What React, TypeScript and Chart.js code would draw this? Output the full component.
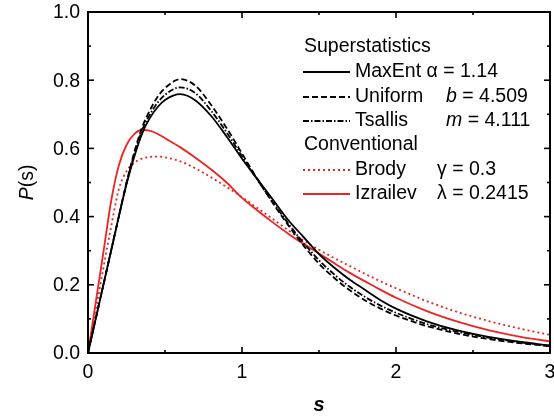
import React, { useEffect, useRef } from "react";
import { Chart, registerables } from "chart.js";

Chart.register(...registerables);

const sValues = [0, 0.025, 0.05, 0.075, 0.1, 0.15, 0.2, 0.25, 0.3, 0.35, 0.4, 0.45, 0.5, 0.6, 0.7, 0.8, 0.9, 1.0, 1.1, 1.2, 1.3, 1.4, 1.5, 1.6, 1.7, 1.8, 1.9, 2.0, 2.2, 2.4, 2.6, 2.8, 3.0];

const maxEnt = [0, 0.05, 0.1, 0.15, 0.2, 0.3, 0.4, 0.495, 0.575, 0.642, 0.688, 0.72, 0.742, 0.759, 0.74, 0.695, 0.635, 0.57, 0.51, 0.45, 0.39, 0.34, 0.29, 0.25, 0.215, 0.185, 0.155, 0.13, 0.093, 0.066, 0.047, 0.033, 0.022];
const uniform = [0, 0.05, 0.1, 0.15, 0.2, 0.3, 0.4, 0.5, 0.588, 0.66, 0.71, 0.75, 0.777, 0.803, 0.783, 0.727, 0.66, 0.585, 0.51, 0.44, 0.375, 0.315, 0.262, 0.22, 0.184, 0.154, 0.13, 0.11, 0.079, 0.057, 0.041, 0.029, 0.02];
const tsallis = [0, 0.05, 0.1, 0.15, 0.2, 0.3, 0.4, 0.498, 0.582, 0.652, 0.698, 0.733, 0.757, 0.779, 0.761, 0.71, 0.647, 0.577, 0.508, 0.443, 0.38, 0.323, 0.272, 0.23, 0.194, 0.164, 0.139, 0.118, 0.085, 0.062, 0.045, 0.032, 0.021];
const brody = [0, 0.062, 0.125, 0.187, 0.25, 0.37, 0.48, 0.533, 0.558, 0.57, 0.575, 0.576, 0.574, 0.562, 0.541, 0.515, 0.487, 0.457, 0.425, 0.393, 0.36, 0.33, 0.303, 0.278, 0.255, 0.232, 0.21, 0.19, 0.152, 0.12, 0.094, 0.072, 0.053];
const izrailev = [0, 0.074, 0.148, 0.222, 0.295, 0.445, 0.55, 0.61, 0.642, 0.654, 0.652, 0.643, 0.63, 0.603, 0.572, 0.538, 0.5, 0.455, 0.418, 0.383, 0.35, 0.32, 0.292, 0.263, 0.235, 0.21, 0.185, 0.162, 0.123, 0.092, 0.067, 0.048, 0.034];

const xMajorTicks = [0, 1, 2, 3];
const xMinorTicks = [0.5, 1.5, 2.5];
const yMajorTicks = [0, 0.2, 0.4, 0.6, 0.8, 1.0];
const yMinorTicks = [0.1, 0.3, 0.5, 0.7, 0.9];
const xTickLabels = ["0", "1", "2", "3"];
const yTickLabels = ["0.0", "0.2", "0.4", "0.6", "0.8", "1.0"];

const RED = "#ec2424";
const FONT = '"Liberation Sans", Arial, Helvetica, sans-serif';

const seriesStyles = [
  { name: "MaxEnt", data: maxEnt, color: "#000000", dash: [] as number[] },
  { name: "Uniform", data: uniform, color: "#000000", dash: [6, 3] },
  { name: "Tsallis", data: tsallis, color: "#000000", dash: [6, 2, 1.5, 2] },
  { name: "Brody", data: brody, color: RED, dash: [2, 3] },
  { name: "Izrailev", data: izrailev, color: RED, dash: [] as number[] },
];

const decorPlugin = {
  id: "decor",
  afterDatasetsDraw(chart: any) {
    const ctx = chart.ctx as CanvasRenderingContext2D;
    const { left, right, top, bottom } = chart.chartArea;
    const xs = chart.scales.x;
    const ys = chart.scales.y;
    ctx.save();
    ctx.strokeStyle = "#000";
    ctx.fillStyle = "#000";
    ctx.lineWidth = 2;
    ctx.setLineDash([]);
    ctx.strokeRect(left, top, right - left, bottom - top);
    const tick = (x1: number, y1: number, x2: number, y2: number) => {
      ctx.beginPath();
      ctx.moveTo(x1, y1);
      ctx.lineTo(x2, y2);
      ctx.stroke();
    };
    ctx.lineWidth = 1.6;
    xMajorTicks.forEach((v) => {
      const px = xs.getPixelForValue(v);
      tick(px, bottom, px, bottom - 6);
      tick(px, top, px, top + 6);
    });
    xMinorTicks.forEach((v) => {
      const px = xs.getPixelForValue(v);
      tick(px, bottom, px, bottom - 3);
      tick(px, top, px, top + 3);
    });
    yMajorTicks.forEach((v) => {
      const py = ys.getPixelForValue(v);
      tick(left, py, left + 6, py);
      tick(right, py, right - 6, py);
    });
    yMinorTicks.forEach((v) => {
      const py = ys.getPixelForValue(v);
      tick(left, py, left + 3, py);
      tick(right, py, right - 3, py);
    });
    ctx.font = `19.5px ${FONT}`;
    ctx.textBaseline = "middle";
    ctx.textAlign = "right";
    yMajorTicks.forEach((v, i) => {
      ctx.fillText(yTickLabels[i], left - 8, ys.getPixelForValue(v) + 1);
    });
    ctx.textAlign = "center";
    xMajorTicks.forEach((v, i) => {
      ctx.fillText(xTickLabels[i], xs.getPixelForValue(v), bottom + 20);
    });
    ctx.font = `italic bold 20px ${FONT}`;
    ctx.fillText("s", (left + right) / 2, bottom + 52);
    ctx.save();
    ctx.translate(28, (top + bottom) / 2);
    ctx.rotate(-Math.PI / 2);
    ctx.font = `italic 19.5px ${FONT}`;
    const wP = ctx.measureText("P").width;
    ctx.font = `19.5px ${FONT}`;
    const wRest = ctx.measureText("(s)").width;
    const start = -(wP + wRest) / 2;
    ctx.textAlign = "left";
    ctx.font = `italic 19.5px ${FONT}`;
    ctx.fillText("P", start, 0);
    ctx.font = `19.5px ${FONT}`;
    ctx.fillText("(s)", start + wP, 0);
    ctx.restore();

    ctx.textAlign = "left";
    ctx.textBaseline = "middle";
    ctx.font = `19.5px ${FONT}`;
    ctx.fillStyle = "#000";
    ctx.fillText("Superstatistics", 304, 47);
    ctx.fillText("Conventional", 304, 145);
    const rows = [
      { y: 72, idx: 0, parts: [{ t: " α = 1.14", x: -1, italic: false }] },
      { y: 97, idx: 1, parts: [{ t: "b", x: 446, italic: true }, { t: " = 4.509", x: -1, italic: false }] },
      { y: 121, idx: 2, parts: [{ t: "m", x: 446, italic: true }, { t: " = 4.111", x: -1, italic: false }] },
      { y: 170, idx: 3, parts: [{ t: "γ = 0.3", x: 437, italic: false }] },
      { y: 194, idx: 4, parts: [{ t: "λ = 0.2415", x: 437, italic: false }] },
    ];
    rows.forEach((r) => {
      const st = seriesStyles[r.idx];
      ctx.strokeStyle = st.color;
      ctx.lineWidth = 1.8;
      ctx.setLineDash(st.dash);
      ctx.beginPath();
      ctx.moveTo(303, r.y);
      ctx.lineTo(350, r.y);
      ctx.stroke();
      ctx.setLineDash([]);
      ctx.font = `19.5px ${FONT}`;
      ctx.fillText(st.name, 355, r.y);
      let cx = 355 + ctx.measureText(st.name).width;
      r.parts.forEach((p) => {
        ctx.font = p.italic ? `italic 19.5px ${FONT}` : `19.5px ${FONT}`;
        const x = p.x >= 0 ? p.x : cx;
        ctx.fillText(p.t, x, r.y);
        cx = x + ctx.measureText(p.t).width;
      });
    });
    ctx.restore();
  },
};

export default function App() {
  const canvasRef = useRef<HTMLCanvasElement | null>(null);
  useEffect(() => {
    if (!canvasRef.current) return;
    const chart = new Chart(canvasRef.current, {
      type: "line",
      data: {
        datasets: seriesStyles.map((st) => ({
          label: st.name,
          data: sValues.map((s, i) => ({ x: s, y: st.data[i] })),
          borderColor: st.color,
          borderWidth: 1.8,
          borderDash: st.dash,
          pointRadius: 0,
          fill: false,
          cubicInterpolationMode: "monotone" as const,
        })),
      },
      options: {
        animation: false,
        responsive: false,
        devicePixelRatio: 1,
        layout: { padding: { left: 88, right: 4, top: 12, bottom: 66 } },
        scales: {
          x: { type: "linear", min: 0, max: 3, display: false },
          y: { type: "linear", min: 0, max: 1, display: false },
        },
        plugins: {
          legend: { display: false },
          tooltip: { enabled: false },
        },
      },
      plugins: [decorPlugin],
    });
    return () => chart.destroy();
  }, []);
  return (
    <div style={{ position: "fixed", left: 0, top: 0, width: 554, height: 419, background: "#fff" }}>
      <canvas ref={canvasRef} width={554} height={419} style={{ width: 554, height: 419 }} />
    </div>
  );
}
